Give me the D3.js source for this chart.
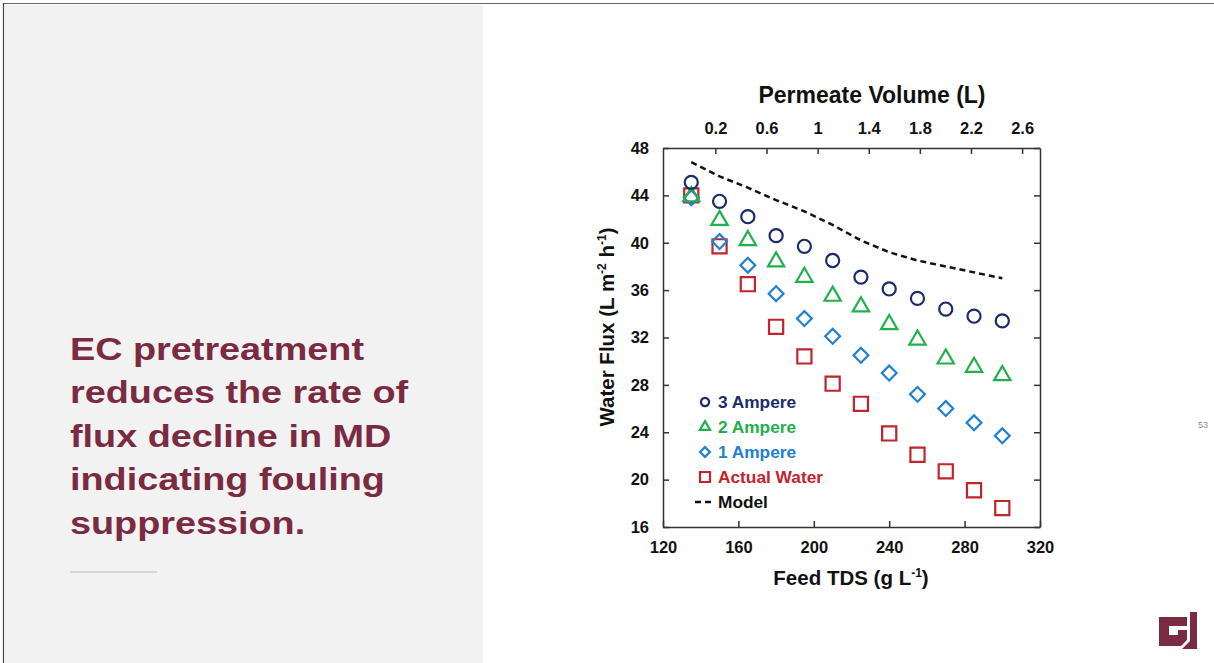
<!DOCTYPE html>
<html>
<head>
<meta charset="utf-8">
<script src="https://cdn.jsdelivr.net/npm/d3@7"></script>
<style>
  body { margin: 0; background: #fff; }
  svg { display: block; font-family: "Liberation Sans", Arial, sans-serif; }
</style>
</head>
<body>
<svg id="slide" width="1214" height="663"></svg>
<script>
// values
var tds = [135, 150, 165, 180, 195, 210, 225, 240, 255, 270, 285, 300];
var amp3 = [45.1, 43.5, 42.2, 40.6, 39.7, 38.5, 37.1, 36.1, 35.3, 34.4, 33.8, 33.4];
var amp2 = [43.9, 41.9, 40.2, 38.4, 37.1, 35.5, 34.6, 33.1, 31.8, 30.2, 29.5, 28.8];
var amp1 = [43.8, 40.1, 38.1, 35.7, 33.6, 32.1, 30.5, 29.0, 27.2, 26.0, 24.8, 23.7];
var actual = [44.0, 39.7, 36.5, 32.9, 30.4, 28.1, 26.4, 23.9, 22.1, 20.7, 19.1, 17.6];
var model = [46.8, 45.6, 44.65, 43.6, 42.65, 41.5, 40.2, 39.2, 38.5, 38.0, 37.5, 37.0];

var xTicks = [120, 160, 200, 240, 280, 320];
var yTicks = [16, 20, 24, 28, 32, 36, 40, 44, 48];
var volTicks = [0.2, 0.6, 1, 1.4, 1.8, 2.2, 2.6];

var headline = ["EC pretreatment", "reduces the rate of", "flux decline in MD", "indicating fouling", "suppression."];

(function() {
    var svg = d3.select("#slide");
    var maroon = "#7a2a41";

    // slide frame + left panel
    svg.append("rect").attr("x", 5).attr("y", 5).attr("width", 478).attr("height", 658).attr("fill", "#f2f2f2");
    svg.append("line").attr("x1", 3).attr("x2", 1214).attr("y1", 3.5).attr("y2", 3.5).attr("stroke", "#666").attr("stroke-width", 1.2);
    svg.append("line").attr("x1", 3.5).attr("x2", 3.5).attr("y1", 3).attr("y2", 663).attr("stroke", "#444").attr("stroke-width", 1.2);

    var txt = svg.append("g").attr("transform", "translate(70,0) scale(1.2,1)");
    txt.selectAll("text").data(headline).join("text")
        .attr("x", 0)
        .attr("y", function(d, i) { return 360 + i * 43.5; })
        .attr("fill", maroon)
        .attr("font-size", 31.5)
        .attr("font-weight", "bold")
        .text(function(d) { return d; });

    svg.append("line").attr("x1", 70).attr("x2", 157).attr("y1", 572).attr("y2", 572)
        .attr("stroke", "#d6d6d6").attr("stroke-width", 2);

    svg.append("text").attr("x", 1203).attr("y", 428).attr("text-anchor", "middle")
        .attr("font-size", 9).attr("fill", "#8c8c8c").text("53");

    // logo
    svg.append("path")
        .attr("d", "M1159,617 L1187,617 L1187,626 L1169,626 L1169,635 L1178,635 L1178,630 L1187,630 L1187,640 L1181,646 L1159,646 Z")
        .attr("fill", maroon);
    svg.append("path")
        .attr("d", "M1190,612 L1197,612 L1197,649 L1182,649 L1190,641 Z")
        .attr("fill", maroon);

    // chart
    var left = 663, right = 1040, top = 148, bottom = 527;
    var x = d3.scaleLinear().domain([120, 320]).range([left, right]);
    var xv = d3.scaleLinear().domain([-0.21, 2.74]).range([left, right]);
    var y = d3.scaleLinear().domain([16, 48]).range([bottom, top]);

    var axisCol = "#333";
    function styleAxis(g) {
        g.select(".domain").attr("stroke", axisCol).attr("stroke-width", 1.5);
        g.selectAll(".tick line").attr("stroke", axisCol).attr("stroke-width", 1.5);
        g.selectAll(".tick text").attr("fill", "#111").attr("font-size", 16.5).attr("font-weight", "bold")
            .attr("font-family", "Liberation Sans, Arial, sans-serif");
    }

    svg.append("g").attr("transform", "translate(0," + bottom + ")")
        .call(d3.axisBottom(x).tickValues(xTicks).tickSizeInner(-6).tickSizeOuter(0).tickPadding(14))
        .call(styleAxis);
    svg.append("g").attr("transform", "translate(0," + top + ")")
        .call(d3.axisTop(xv).tickValues(volTicks).tickSizeInner(-6).tickSizeOuter(0).tickPadding(14)
            .tickFormat(function(d) { return String(d); }))
        .call(styleAxis);
    svg.append("g").attr("transform", "translate(" + left + ",0)")
        .call(d3.axisLeft(y).tickValues(yTicks).tickSizeInner(-6).tickSizeOuter(0).tickPadding(14))
        .call(styleAxis);
    svg.append("g").attr("transform", "translate(" + right + ",0)")
        .call(d3.axisRight(y).tickValues(yTicks).tickSizeInner(-6).tickSizeOuter(0).tickFormat(""))
        .call(styleAxis);

    // axis titles
    svg.append("text").attr("x", 872).attr("y", 103).attr("text-anchor", "middle")
        .attr("font-size", 23).attr("font-weight", "bold").attr("fill", "#111").text("Permeate Volume (L)");

    var xt = svg.append("text").attr("x", 851).attr("y", 585).attr("text-anchor", "middle")
        .attr("font-size", 20.5).attr("font-weight", "bold").attr("fill", "#111");
    xt.append("tspan").text("Feed TDS (g L");
    xt.append("tspan").attr("dy", -8).attr("font-size", 12).text("-1");
    xt.append("tspan").attr("dy", 8).text(")");

    var yt = svg.append("text").attr("transform", "translate(614,327) rotate(-90)").attr("text-anchor", "middle")
        .attr("font-size", 20.5).attr("font-weight", "bold").attr("fill", "#111");
    yt.append("tspan").text("Water Flux (L m");
    yt.append("tspan").attr("dy", -8).attr("font-size", 12).text("-2");
    yt.append("tspan").attr("dy", 8).text(" h");
    yt.append("tspan").attr("dy", -8).attr("font-size", 12).text("-1");
    yt.append("tspan").attr("dy", 8).text(")");

    // model line
    var line = d3.line().x(function(d, i) { return x(tds[i]); }).y(function(d) { return y(d); });
    svg.append("path").datum(model).attr("d", line)
        .attr("fill", "none").attr("stroke", "#111").attr("stroke-width", 2.5).attr("stroke-dasharray", "6,4");

    var series = [
        { name: "Actual Water", vals: actual, color: "#c3232c", type: d3.symbolSquare, size: 200, lsize: 100, rot: 0 },
        { name: "1 Ampere", vals: amp1, color: "#2180cf", type: d3.symbolSquare, size: 110, lsize: 48, rot: 45 },
        { name: "2 Ampere", vals: amp2, color: "#22b04d", type: d3.symbolTriangle, size: 115, lsize: 45, rot: 0 },
        { name: "3 Ampere", vals: amp3, color: "#1c2b6b", type: d3.symbolCircle, size: 135, lsize: 52, rot: 0 }
    ];

    series.forEach(function(s) {
        svg.append("g").selectAll("path").data(s.vals).join("path")
            .attr("d", d3.symbol().type(s.type).size(s.size))
            .attr("transform", function(d, i) { return "translate(" + x(tds[i]) + "," + y(d) + ") rotate(" + s.rot + ")"; })
            .attr("fill", "none").attr("stroke", s.color).attr("stroke-width", 2.2);
    });

    // legend
    var leg = series.slice().reverse();
    var lg = svg.append("g");
    leg.forEach(function(s, i) {
        var cy = 402 + i * 25;
        lg.append("path").attr("d", d3.symbol().type(s.type).size(s.lsize)())
            .attr("transform", "translate(705," + cy + ") rotate(" + s.rot + ")")
            .attr("fill", "none").attr("stroke", s.color).attr("stroke-width", 2.2);
        lg.append("text").attr("x", 718).attr("y", cy + 6).attr("font-size", 17.3).attr("font-weight", "bold")
            .attr("fill", s.color).text(s.name);
    });
    var my = 402 + 4 * 25;
    lg.append("line").attr("x1", 695).attr("x2", 712).attr("y1", my).attr("y2", my)
        .attr("stroke", "#111").attr("stroke-width", 2.5).attr("stroke-dasharray", "6,4");
    lg.append("text").attr("x", 718).attr("y", my + 6).attr("font-size", 17.3).attr("font-weight", "bold")
        .attr("fill", "#111").text("Model");
})();
</script>
</body>
</html>
